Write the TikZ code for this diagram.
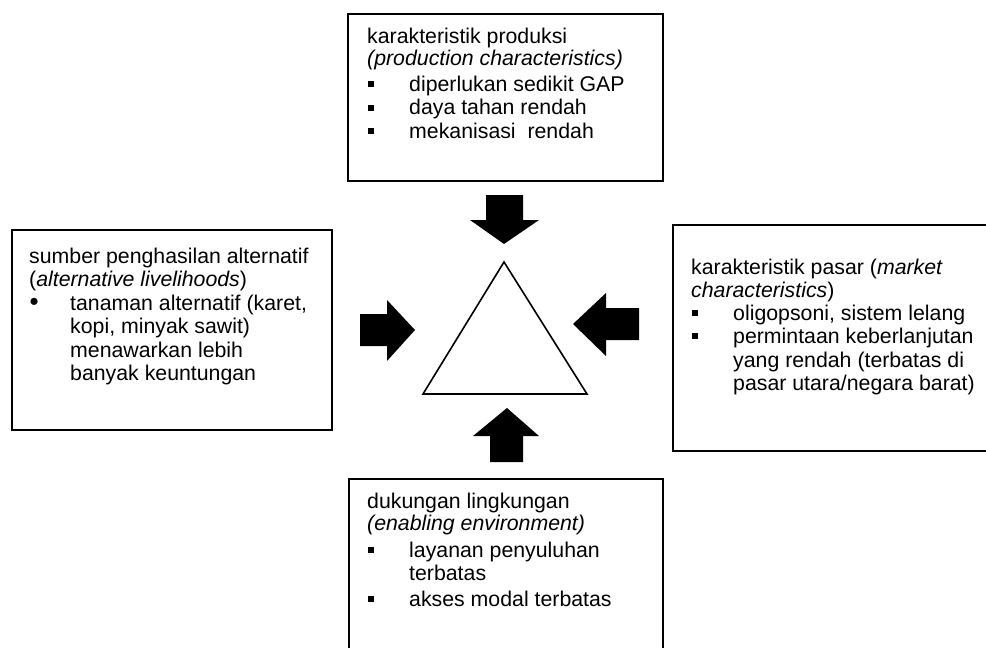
\documentclass[tikz,border=0pt]{standalone}
\usepackage{fontspec}
\setmainfont{Liberation Sans}
\newcommand{\sqb}{\makebox[42pt][l]{\hspace{1pt}\rule[3.8pt]{6pt}{6pt}}}
\newcommand{\rdb}{\makebox[41pt][l]{\hspace{0.5pt}\raisebox{-0.8pt}{\fontsize{26}{26}\selectfont\textbullet}}}
\begin{document}
\begin{tikzpicture}[x=1pt,y=-1pt,
  box/.style={draw=black, line width=1.6pt, anchor=north west, inner sep=0pt},
  txt/.style={anchor=base west, inner sep=0pt, font=\fontsize{21.3}{23}\selectfont},
  blk/.style={fill=black},
  tri/.style={draw=black, line width=1.6pt, line join=miter}]
\useasboundingbox (0,0) rectangle (986,648);
\clip (0,0) rectangle (986,648);
\fill[white] (0,0) rectangle (986,648);

% boxes
\node[box, minimum width=315pt, minimum height=167pt] (topbox) at (347,13) {};
\node[box, minimum width=320pt, minimum height=200pt] (leftbox) at (11,229) {};
\node[box, minimum width=330pt, minimum height=226pt] (rightbox) at (672,224) {};
\node[box, minimum width=314pt, minimum height=190pt] (botbox) at (348,478) {};

% top box text
\node[txt] (t1) at (367,43) {karakteristik produksi};
\node[txt] (t2) at (367,65.5) {\textit{(production characteristics)}};
\node[txt] (t3) at (367,91) {\sqb diperlukan sedikit GAP};
\node[txt] (t4) at (367,114.5) {\sqb daya tahan rendah};
\node[txt] (t5) at (367,138) {\sqb mekanisasi\ \ rendah};

% left box text
\node[txt] (l1) at (29,263) {sumber penghasilan alternatif};
\node[txt] (l2) at (29,286.5) {(\textit{alternative livelihoods})};
\node[txt] (l3) at (29,310) {\rdb tanaman alternatif (karet,};
\node[txt] (l4) at (70,333.5) {kopi, minyak sawit)};
\node[txt] (l5) at (70,357) {menawarkan lebih};
\node[txt] (l6) at (70,380.5) {banyak keuntungan};

% right box text
\node[txt] (r1) at (691,274) {karakteristik pasar (\textit{market}};
\node[txt] (r2) at (691,297) {\textit{characteristics})};
\node[txt] (r3) at (691,320) {\sqb oligopsoni, sistem lelang};
\node[txt] (r4) at (691,343) {\sqb permintaan keberlanjutan};
\node[txt] (r5) at (733,367) {yang rendah (terbatas di};
\node[txt] (r6) at (733,390) {pasar utara/negara barat)};

% bottom box text
\node[txt] (b1) at (367,508) {dukungan lingkungan};
\node[txt] (b2) at (367,530.5) {\textit{(enabling environment)}};
\node[txt] (b3) at (367,557) {\sqb layanan penyuluhan};
\node[txt] (b4) at (409,580.5) {terbatas};
\node[txt] (b5) at (367,606) {\sqb akses modal terbatas};

% central triangle
\draw[tri] (504,262) -- (587,394) -- (423,394) -- cycle;

% block arrows
\fill[blk] (486,195) -- (523,195) -- (523,220) -- (539,220) -- (504,244) -- (470,220) -- (486,220) -- cycle;
\fill[blk] (360,314) -- (387,314) -- (387,300) -- (415,330) -- (387,361) -- (387,346) -- (360,346) -- cycle;
\fill[blk] (639,308) -- (606,308) -- (606,293) -- (573,324) -- (606,356) -- (606,340) -- (639,340) -- cycle;
\fill[blk] (490,462) -- (490,436) -- (473,436) -- (507,408) -- (539,436) -- (523,436) -- (523,462) -- cycle;
\end{tikzpicture}
\end{document}
